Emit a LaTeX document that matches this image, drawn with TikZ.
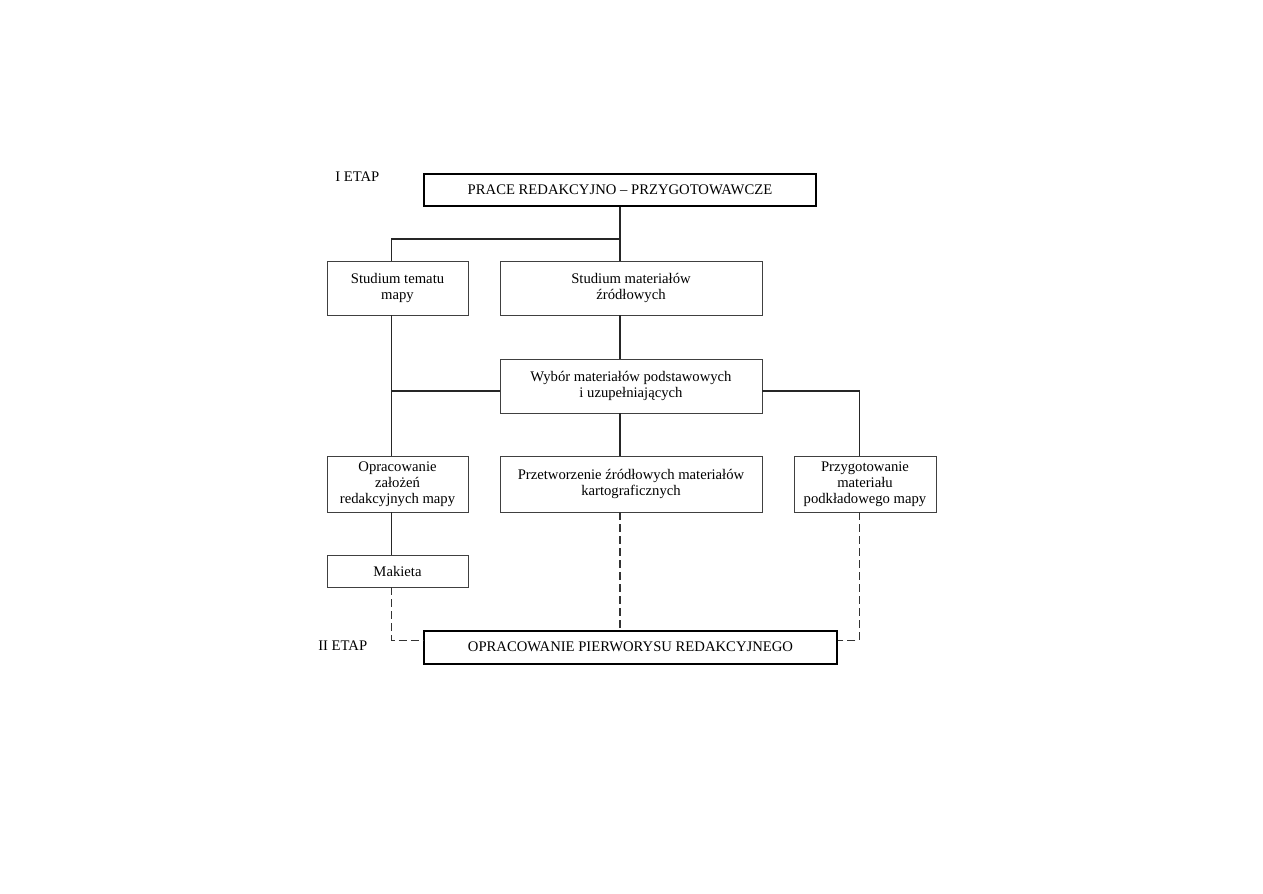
\documentclass[tikz,border=0pt]{standalone}
\usepackage{fontspec}
\setmainfont{Liberation Serif}
\usepackage{tikz}
\usetikzlibrary{calc}
\usepackage{xcolor}
\tikzset{
    font=\fontsize{11}{12.2}\selectfont,
    % Shapes
    box/.style={rectangle, draw=black!75, line width=0.7pt, align=center,
                inner sep=2pt, minimum width=105.75pt, minimum height=40.5pt},
    wideBox/.style={box, minimum width=196.5pt},
    stageBox/.style={rectangle, draw=black, line width=1.5pt, align=center,
                     minimum height=24pt},
    % Flow & Labels
    flow/.style={line width=0.9pt, black!85},
    dflow/.style={line width=0.8pt, black!80, dash pattern=on 6pt off 3pt},
    lbl/.style={inner sep=0pt, anchor=base west}
}

\begin{document}
\begin{tikzpicture}[x=0.75pt, y=-0.75pt]
\useasboundingbox (0,0) rectangle (1263,893);

\node[stageBox, minimum width=294pt] (prace) at (620,190) {PRACE REDAKCYJNO -- PRZYGOTOWAWCZE};
\node[lbl] (etap1) at (335,181) {I ETAP};

\node[box] (temat) at (397.5,288) {Studium tematu\\mapy};
\node[wideBox] (zrodla) at (631,288) {Studium materiałów\\źródłowych};
\node[wideBox] (wybor) at (631,386) {Wybór materiałów podstawowych\\i uzupełniających};

\node[box, minimum height=42pt] (oprac) at (397.5,484) {Opracowanie\\założeń\\redakcyjnych mapy};
\node[wideBox, minimum height=42pt] (przetw) at (631,484) {Przetworzenie źródłowych materiałów\\kartograficznych};
\node[box, minimum width=106.5pt, minimum height=42pt] (przyg) at (865,484) {Przygotowanie\\materiału\\podkładowego mapy};
\node[box, minimum height=24pt] (makieta) at (397.5,571) {Makieta};

\node[stageBox, minimum width=309.75pt, minimum height=24.75pt] (pierworys) at (630.5,647) {OPRACOWANIE PIERWORYSU REDAKCYJNEGO};
\node[lbl] (etap2) at (318,650) {II ETAP};

\coordinate (lcol) at (391.7,0);
\coordinate (rcol) at (859.3,0);
\coordinate (split) at (620,239);
\coordinate (wy) at (0,391);
\coordinate (dy) at (0,640.5);

\draw[flow] (prace.south) -- (prace.south |- zrodla.north);
\draw[flow] (split) -| (lcol |- temat.north);
\draw[flow] (prace.south |- zrodla.south) -- (prace.south |- wybor.north);
\draw[flow] (lcol |- temat.south) -- (lcol |- oprac.north);
\draw[flow] (wybor.west |- wy) -- (lcol |- wy);
\draw[flow] (wybor.east |- wy) -| (rcol |- przyg.north);
\draw[flow] (prace.south |- wybor.south) -- (prace.south |- przetw.north);
\draw[flow] (lcol |- oprac.south) -- (lcol |- makieta.north);

\draw[dflow] (lcol |- makieta.south) |- (pierworys.west |- dy);
\draw[dflow] (prace.south |- przetw.south) -- (prace.south |- pierworys.north);
\draw[dflow] (rcol |- przyg.south) |- (pierworys.east |- dy);

\end{tikzpicture}
\end{document}
